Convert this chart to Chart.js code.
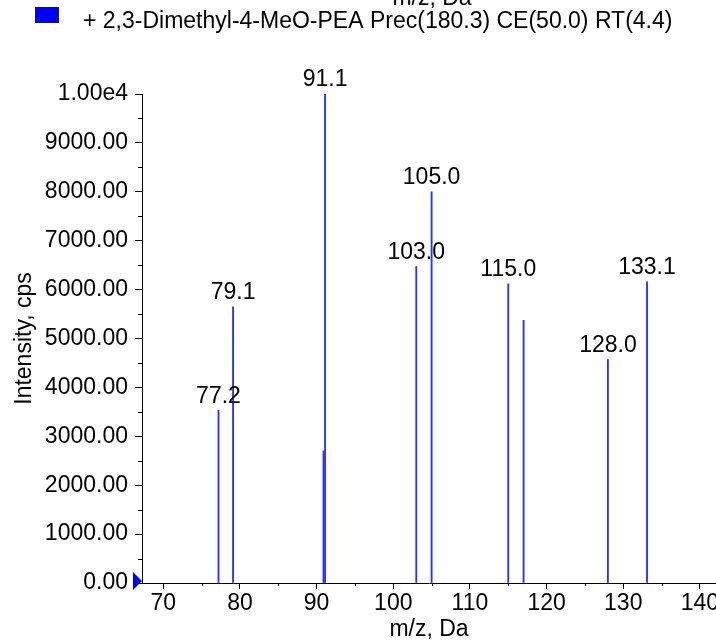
<!DOCTYPE html>
<html>
<head>
<meta charset="utf-8">
<script src="https://cdn.jsdelivr.net/npm/chart.js@4.4.0/dist/chart.umd.min.js"></script>
<style>
  html, body { margin: 0; padding: 0; background: #fff; }
</style>
</head>
<body>
<canvas id="spectrum" width="716" height="641"></canvas>
<script>
// peak list
const MZ = [77.2, 79.1, 90.9, 91.1, 103.0, 105.0, 115.0, 117.0, 128.0, 133.1];
const INTENSITY = [3530, 5650, 2700, 10000, 6470, 8000, 6120, 5370, 4570, 6160];
const PEAK_LABELS = ['77.2', '79.1', '', '91.1', '103.0', '105.0', '115.0', '', '128.0', '133.1'];

// axes
const X_TICKS = [70, 80, 90, 100, 110, 120, 130, 140];
const X_MINOR_TICKS = [75, 85, 95, 105, 115, 125, 135];
const Y_TICKS = [0, 1000, 2000, 3000, 4000, 5000, 6000, 7000, 8000, 9000, 10000];
const Y_TICK_LABELS = ['0.00', '1000.00', '2000.00', '3000.00', '4000.00', '5000.00',
                       '6000.00', '7000.00', '8000.00', '9000.00', '1.00e4'];
const Y_MINOR_TICKS = [500, 1500, 2500, 3500, 4500, 5500, 6500, 7500, 8500, 9500];

const SERIES_NAME = '+ 2,3-Dimethyl-4-MeO-PEA Prec(180.3) CE(50.0) RT(4.4)';
const X_TITLE = 'm/z, Da';
const Y_TITLE = 'Intensity, cps';

const FONT = '"Liberation Sans", Arial, sans-serif';
const FONT_SIZE = 23;
const PEAK_COLOR = '#2e2eff';

// extra drawing: peak labels, minor ticks, zero marker, legend
const decorations = {
    id: 'decorations',
    afterDraw(chart) {
        const { ctx, scales: { x, y } } = chart;
        ctx.save();

        // peak labels
        ctx.font = `${FONT_SIZE}px ${FONT}`;
        ctx.fillStyle = '#000';
        ctx.textAlign = 'center';
        ctx.textBaseline = 'middle';
        MZ.forEach((m, i) => {
            if (!PEAK_LABELS[i]) return;
            ctx.fillText(PEAK_LABELS[i], x.getPixelForValue(m), y.getPixelForValue(INTENSITY[i]) - 14);
        });

        // minor ticks
        ctx.strokeStyle = '#000';
        ctx.lineWidth = 1;
        ctx.beginPath();
        Y_MINOR_TICKS.forEach(v => {
            const py = Math.round(y.getPixelForValue(v)) + 0.5;
            ctx.moveTo(x.left - 4, py);
            ctx.lineTo(x.left, py);
        });
        X_MINOR_TICKS.forEach(v => {
            const px = Math.round(x.getPixelForValue(v)) + 0.5;
            ctx.moveTo(px, y.bottom);
            ctx.lineTo(px, y.bottom + 3);
        });
        ctx.stroke();

        // zero level marker
        const y0 = y.getPixelForValue(0);
        ctx.fillStyle = '#0000ff';
        ctx.beginPath();
        ctx.moveTo(x.left, y0 - 2);
        ctx.lineTo(x.left - 9, y0 - 11);
        ctx.lineTo(x.left - 9, y0 + 7);
        ctx.closePath();
        ctx.fill();

        // legend
        ctx.fillStyle = '#0000ff';
        ctx.fillRect(35, 7, 24, 16);
        ctx.strokeStyle = '#1a1a4a';
        ctx.strokeRect(35.5, 7.5, 23, 15);
        ctx.fillStyle = '#000';
        ctx.textAlign = 'left';
        ctx.fillText(SERIES_NAME, 83, 22);

        // bottom of the previous panel's axis title, cut off at the top
        ctx.textAlign = 'center';
        ctx.textBaseline = 'alphabetic';
        ctx.fillText(X_TITLE, 432, 5);

        ctx.restore();
    }
};

new Chart(document.getElementById('spectrum'), {
    type: 'bar',
    data: {
        datasets: [{
            label: SERIES_NAME,
            data: MZ.map((m, i) => ({ x: m, y: INTENSITY[i] })),
            backgroundColor: PEAK_COLOR,
            barThickness: 1.2,
            grouped: false
        }]
    },
    plugins: [decorations],
    options: {
        responsive: false,
        animation: false,
        devicePixelRatio: 1,
        layout: { padding: { top: 94, left: 0, right: 0, bottom: 0 } },
        plugins: {
            legend: { display: false },
            tooltip: { enabled: false }
        },
        scales: {
            x: {
                type: 'linear',
                min: 67.22,
                max: 142.1,
                offset: false,
                afterBuildTicks: s => { s.ticks = X_TICKS.map(v => ({ value: v })); },
                afterFit: s => { s.height = 58; s.paddingLeft = 0; s.paddingRight = 0; },
                grid: { display: true, drawOnChartArea: false, offset: false, tickLength: 6, tickColor: '#000' },
                border: { display: true, color: '#000', width: 1 },
                ticks: {
                    color: '#000',
                    padding: 1,
                    maxRotation: 0,
                    autoSkip: false,
                    font: { family: FONT, size: FONT_SIZE },
                    callback: v => String(v)
                },
                title: {
                    display: true,
                    text: X_TITLE,
                    color: '#000',
                    font: { family: FONT, size: FONT_SIZE },
                    padding: { top: 0, bottom: -2 }
                }
            },
            y: {
                min: 0,
                max: 10000,
                afterBuildTicks: s => { s.ticks = Y_TICKS.map(v => ({ value: v })); },
                afterFit: s => { s.width = 142; s.paddingTop = 0; s.paddingBottom = 0; },
                grid: { display: true, drawOnChartArea: false, tickLength: 7, tickColor: '#000' },
                border: { display: true, color: '#000', width: 1 },
                ticks: {
                    color: '#000',
                    padding: 7,
                    font: { family: FONT, size: FONT_SIZE },
                    callback: v => Y_TICK_LABELS[Y_TICKS.indexOf(v)]
                },
                title: {
                    display: true,
                    text: Y_TITLE,
                    color: '#000',
                    font: { family: FONT, size: FONT_SIZE },
                    padding: { top: 11, bottom: 0 }
                }
            }
        }
    }
});
</script>
</body>
</html>
